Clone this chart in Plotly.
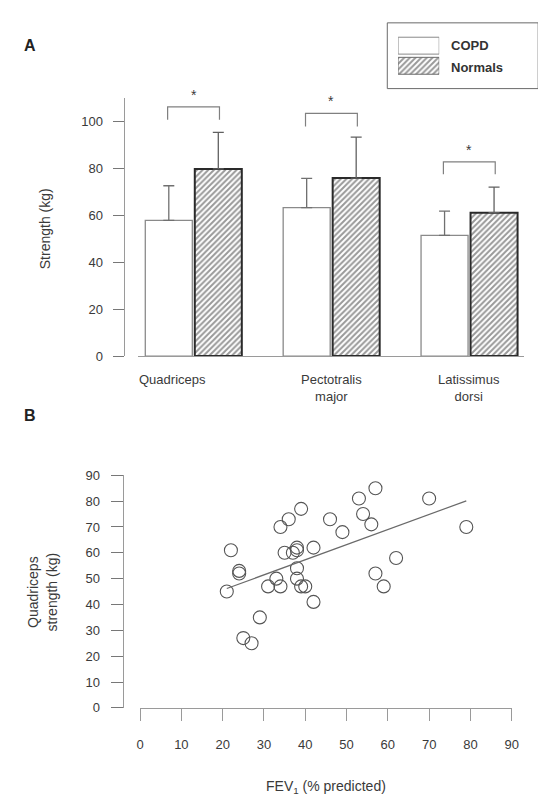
import plotly.graph_objects as go

W, H = 546, 806

# ---------------- Panel A data ----------------
muscles = ["Quadriceps", "Pectotralis<br>major", "Latissimus<br>dorsi"]
groups = ["COPD", "Normals"]
copd_mean = [57.9, 63.4, 51.5]
copd_sd = [14.8, 12.5, 10.4]
normal_mean = [79.9, 76.0, 61.2]
normal_sd = [15.6, 17.5, 10.9]
sig_top = [106.4, 103.6, 82.9]
sig_leg = [100.9, 98.0, 77.6]
sig_mark = ["*", "*", "*"]
yticks_a = [0, 20, 40, 60, 80, 100]

# ---------------- Panel B data ----------------
fev1 = [22, 24, 24, 21, 25, 27, 29, 31, 33, 34, 34, 36, 39, 35, 37, 38, 38, 38,
        38, 39, 40, 42, 42, 46, 49, 53, 57, 54, 56, 57, 59, 62, 70, 79]
quad_strength = [61, 53, 52, 45, 27, 25, 35, 47, 50, 47, 70, 73, 77, 60, 60, 62, 61, 54,
                 50, 47, 47, 62, 41, 73, 68, 81, 85, 75, 71, 52, 47, 58, 81, 70]
fit_x = [21, 79]
fit_y = [46.2, 80.1]
ticks_b = [0, 10, 20, 30, 40, 50, 60, 70, 80, 90]

FONT = "Liberation Sans, Arial, sans-serif"
TXT = "#3a3a3a"
AX = "#9a9a9a"


def px(x):
    return x / W


def py(y):
    return 1 - y / H


fig = go.Figure()
xa = list(range(len(muscles)))

fig.add_trace(go.Bar(
    x=xa, y=copd_mean, name=groups[0], xaxis="x", yaxis="y",
    marker=dict(color="white", line=dict(color="#8a8a8a", width=1.3)),
    error_y=dict(type="data", array=copd_sd, arrayminus=[0] * 3, symmetric=False,
                 color="#707070", thickness=1.3, width=5.5),
    showlegend=False,
))
fig.add_trace(go.Bar(
    x=xa, y=normal_mean, name=groups[1], xaxis="x", yaxis="y",
    marker=dict(color="white", line=dict(color="#2a2a2a", width=2),
                pattern=dict(shape="/", fgcolor="#333333", bgcolor="white", size=4, solidity=0.5)),
    error_y=dict(type="data", array=normal_sd, arrayminus=[0] * 3, symmetric=False,
                 color="#606060", thickness=1.3, width=5.5),
    showlegend=False,
))

# significance brackets
off = 0.188
bx, by = [], []
for i in xa:
    bx += [i - off, i - off, i + off, i + off, None]
    by += [sig_leg[i], sig_top[i], sig_top[i], sig_leg[i], None]
fig.add_trace(go.Scatter(x=bx, y=by, mode="lines", xaxis="x", yaxis="y",
                         line=dict(color="#808080", width=1.2), showlegend=False,
                         hoverinfo="skip"))

annotations = []
for i in xa:
    annotations.append(dict(x=i, y=sig_top[i], xref="x", yref="y", text=sig_mark[i],
                            showarrow=False, xanchor="center", yanchor="bottom", yshift=2,
                            font=dict(size=14, color=TXT, family=FONT)))
# category labels
for i, m in enumerate(muscles):
    annotations.append(dict(x=i, y=py(362), xref="x", yref="paper", text=m,
                            showarrow=False, xanchor="center", yanchor="top", align="center",
                            xshift=-21 if i == 0 else 0,
                            font=dict(size=13, color=TXT, family=FONT)))

# ---------------- Panel B traces ----------------
fig.add_trace(go.Scatter(x=fev1, y=quad_strength, mode="markers", xaxis="x2", yaxis="y2",
                         marker=dict(symbol="circle-open", size=13, color="#555555",
                                     line=dict(width=1.1, color="#555555")),
                         showlegend=False))
fig.add_trace(go.Scatter(x=fit_x, y=fit_y, mode="lines", xaxis="x2", yaxis="y2",
                         line=dict(color="#6a6a6a", width=1.2), showlegend=False))

# ---------------- Legend swatches ----------------
fig.add_trace(go.Bar(
    x=[1, 1], y=[1, 0], base=[0, 0], orientation="h", width=[0.84, 0.84],
    xaxis="x3", yaxis="y3", showlegend=False,
    marker=dict(color="white", line=dict(color=["#8a8a8a", "#6a6a6a"], width=1),
                pattern=dict(shape=["", "/"], fgcolor="#333333", bgcolor="white",
                             size=4, solidity=0.5)),
))


def pa(x, y, text, size=14, color=TXT, angle=0, xanchor="center"):
    return dict(x=px(x), y=py(y), xref="paper", yref="paper", text=text, showarrow=False,
                xanchor=xanchor, yanchor="middle", textangle=angle,
                font=dict(size=size, color=color, family=FONT))


annotations += [
    pa(18, 31, "<b>A</b>", 16, "#222"),
    pa(18, 408, "<b>B</b>", 16, "#222"),
    pa(446, 31, "<b>COPD</b>", 13, "#333", xanchor="left"),
    pa(446, 54, "<b>Normals</b>", 13, "#333", xanchor="left"),
    pa(34, 218, "Strength (kg)", 14, angle=-90),
    pa(31, 588, "Quadriceps<br>strength (kg)", 14, angle=-90),
    pa(320, 787, "FEV<sub>1</sub> (% predicted)", 14),
]

shapes = [dict(type="rect", xref="paper", yref="paper", x0=px(383), x1=px(537),
               y0=py(75), y1=py(8), line=dict(color="#6a6a6a", width=1))]

tickfont = dict(size=13, color=TXT, family=FONT)

fig.update_layout(
    width=W, height=H, margin=dict(l=0, r=0, t=0, b=0),
    paper_bgcolor="white", plot_bgcolor="white",
    barmode="group", bargap=0.282, bargroupgap=0.05,
    font=dict(family=FONT, color=TXT),
    annotations=annotations, shapes=shapes,
    xaxis=dict(domain=[px(129), px(523)], range=[-0.4, 2.4], anchor="y",
               showline=True, linecolor=AX, linewidth=1.3, showgrid=False, zeroline=False,
               showticklabels=False, ticks=""),
    yaxis=dict(domain=[py(347.5), py(85)], range=[0, 110], anchor="free", position=px(114),
               showline=True, linecolor=AX, linewidth=1.3, showgrid=False, zeroline=False,
               tickvals=yticks_a, ticks="outside", ticklen=11, tickcolor="#777", tickwidth=1.2,
               tickfont=tickfont, ticklabelstandoff=7),
    xaxis2=dict(domain=[px(130.7), px(510)], range=[0, 90], anchor="y2",
                showline=True, linecolor=AX, linewidth=1.3, showgrid=False, zeroline=False,
                tickvals=ticks_b, ticks="outside", ticklen=12, tickcolor=AX, tickwidth=1.2,
                tickfont=tickfont, ticklabelstandoff=12),
    yaxis2=dict(domain=[py(706), py(469)], range=[0, 90], anchor="free", position=px(113),
                showline=True, linecolor=AX, linewidth=1.3, showgrid=False, zeroline=False,
                tickvals=ticks_b, ticks="outside", ticklen=12, tickcolor="#777", tickwidth=1.2,
                tickfont=tickfont, ticklabelstandoff=8),
    xaxis3=dict(domain=[px(394), px(436)], range=[0, 1], anchor="y3", visible=False,
                fixedrange=True),
    yaxis3=dict(domain=[py(62), py(21)], range=[-0.5, 1.5], anchor="x3", visible=False,
                fixedrange=True),
)

fig.write_html("out.html")
